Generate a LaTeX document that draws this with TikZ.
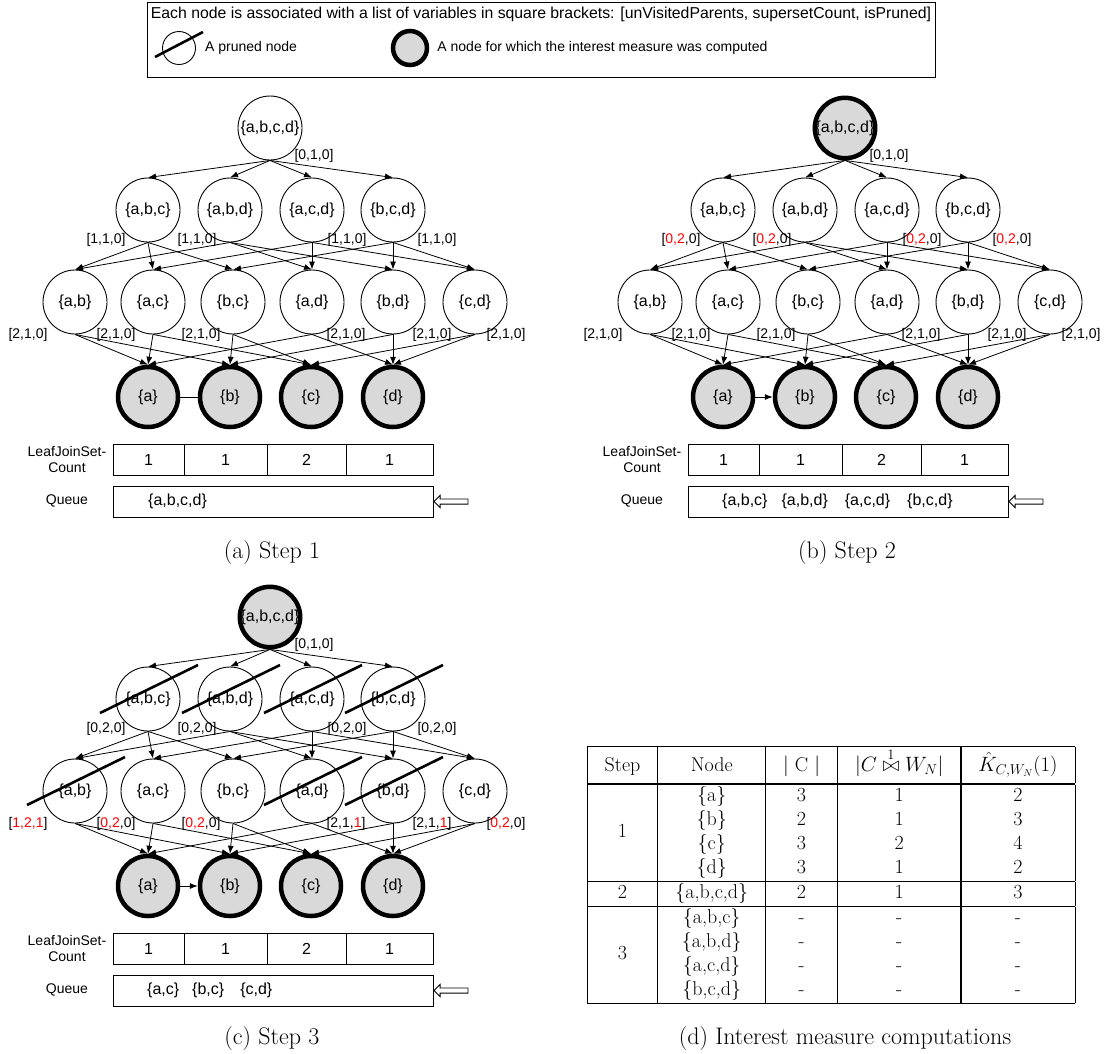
\documentclass[tikz,border=0pt]{standalone}
\usepackage{fontspec}
\usepackage{multirow}
\usetikzlibrary{positioning, calc, shapes.arrows, arrows.meta}
\newfontfamily\arial{Liberation Sans}
\definecolor{leafgray}{RGB}{217,217,217}
\newcommand{\hl}[1]{\textcolor{red}{#1}}

\begin{document}
\begin{tikzpicture}[
    x=1pt, y=-1pt,
    setnode/.style={circle, draw, line width=0.9pt, minimum size=64pt, inner sep=0pt, font=\arial\fontsize{16}{18}\selectfont},
    donenode/.style={setnode, fill=leafgray, line width=4.5pt, minimum size=60pt},
    tag/.style={inner sep=1pt, font=\arial\fontsize{14}{16}\selectfont},
    arr/.style={-{Latex[length=8pt,width=6pt]}, line width=0.8pt},
    link/.style={line width=0.8pt},
    prune/.style={line width=2.6pt},
    cell/.style={rectangle, draw, line width=0.9pt, minimum height=31pt, inner sep=0pt, font=\arial\fontsize{16}{18}\selectfont},
    qtext/.style={inner sep=0pt, font=\arial\fontsize{16}{18}\selectfont},
    rowlabel/.style={align=center, inner sep=0pt, font=\arial\fontsize{14}{16}\selectfont},
    legendtext/.style={inner sep=0pt, font=\arial\fontsize{14}{16}\selectfont},
    pointer/.style={single arrow, draw, line width=0.8pt, fill=white, inner sep=2.2pt, single arrow head extend=3.5pt, single arrow head indent=0pt, minimum height=34pt, shape border rotate=180, anchor=tip},
    caption/.style={inner sep=0pt, font=\fontsize{24}{28}\selectfont}
]
\useasboundingbox (0,0) rectangle (1107,1053);

% legend
\node[draw, line width=0.9pt, minimum width=788pt, minimum height=75pt, inner sep=0pt, anchor=north west] (legend) at (147,2) {};
\node[legendtext, font=\arial\fontsize{15.8}{18}\selectfont] (legtext) at (541,14) {Each node is associated with a list of variables in square brackets: [unVisitedParents, supersetCount, isPruned]};
\node[circle, draw, line width=0.9pt, minimum size=33pt] (legprune) at (179,48) {};
\draw[prune] ($(legprune)+(-24,9)$) -- ($(legprune)+(24,-16)$);
\node[legendtext, right=9pt of legprune] (legprunetext) {A pruned node};
\node[circle, draw, fill=leafgray, line width=4.5pt, minimum size=34pt] (legdone) at (410,48) {};
\node[legendtext, right=8pt of legdone] (legdonetext) {A node for which the interest measure was computed};

% the three lattices with their counters and queues
\foreach \p/\dx/\dy/\rs/\lk in {a/0/0/setnode/link, b/575/0/donenode/arr, c/0/489/donenode/arr} {
  \begin{scope}[shift={(\dx,\dy)}]
    \node[\rs] (\p-abcd) at (270,128) {\{a,b,c,d\}};
    \foreach \n/\t/\x in {abc/{a,b,c}/148, abd/{a,b,d}/230, acd/{a,c,d}/312, bcd/{b,c,d}/393}
      \node[setnode] (\p-\n) at (\x,210) {\{\t\}};
    \foreach \n/\t/\x in {ab/{a,b}/75, ac/{a,c}/153, bc/{b,c}/233, ad/{a,d}/312, bd/{b,d}/393, cd/{c,d}/475}
      \node[setnode] (\p-\n) at (\x,302) {\{\t\}};
    \foreach \n/\x in {a/148, b/230, c/311, d/393}
      \node[donenode] (\p-\n) at (\x,397) {\{\n\}};

    \foreach \n in {abc, abd, acd, bcd}
      \draw[arr] (\p-abcd.south) -- (\p-\n.north);
    \foreach \src/\dst in {abc/ab, abc/ac, abc/bc, abd/ab, abd/ad, abd/bd, acd/ac, acd/ad, acd/cd, bcd/bc, bcd/bd, bcd/cd}
      \draw[arr] (\p-\src.south) -- (\p-\dst.north);
    \foreach \src/\dst in {ab/a, ab/b, ac/a, ac/c, bc/b, bc/c, ad/a, ad/d, bd/b, bd/d, cd/c, cd/d}
      \draw[arr] (\p-\src.south) -- (\p-\dst.north);
    \draw[\lk] (\p-a) -- (\p-b);

    \node[tag] (\p-abcd-tag) at ($(\p-abcd)+(44,28)$) {[0,1,0]};

    % LeafJoinSetCount and queue
    \node[rowlabel] (\p-cntlbl) at (67,459) {LeafJoinSet-\\Count};
    \foreach \cx/\w/\v [count=\i] in {148.5/71/1, 225.5/83/1, 306.5/79/2, 389.5/87/1}
      \node[cell, minimum width=\w pt] (\p-cnt\i) at (\cx,459.5) {\v};
    \node[rowlabel] (\p-qlbl) at (67,501) {Queue};
    \node[cell, minimum width=320pt] (\p-queue) at (273,501.5) {};
    \node[pointer] (\p-ptr) at (\p-queue.east) {};
  \end{scope}
}

% variables of step 1
\foreach \n/\o/\t in {abc/-42/{[1,1,0]}, abd/-33/{[1,1,0]}, acd/35/{[1,1,0]}, bcd/44/{[1,1,0]}}
  \node[tag] (a-\n-tag) at ($(a-\n)+(\o,30)$) {\t};
\foreach \n/\o in {ab/-47, ac/-37, bc/-32, ad/34, bd/39, cd/31}
  \node[tag] (a-\n-tag) at ($(a-\n)+(\o,33)$) {[2,1,0]};
\node[qtext, anchor=west] (a-items) at (148,501) {\{a,b,c,d\}};

% variables of step 2
\foreach \n/\o in {abc/-42, abd/-33, acd/35, bcd/44}
  \node[tag] (b-\n-tag) at ($(b-\n)+(\o,30)$) {[\hl{0,2},0]};
\foreach \n/\o in {ab/-47, ac/-37, bc/-32, ad/34, bd/39, cd/31}
  \node[tag] (b-\n-tag) at ($(b-\n)+(\o,33)$) {[2,1,0]};
\node[qtext, anchor=west] (b-items) at (722,501) {\{a,b,c\}\hspace{14pt}\{a,b,d\}\hspace{17pt}\{a,c,d\}\hspace{17pt}\{b,c,d\}};

% variables of step 3
\foreach \n/\o in {abc/-42, abd/-33, acd/35, bcd/44}
  \node[tag] (c-\n-tag) at ($(c-\n)+(\o,30)$) {[0,2,0]};
\foreach \n/\o/\t in {ab/-47/{[\hl{1,2,1}]}, ac/-37/{[\hl{0,2},0]}, bc/-32/{[\hl{0,2},0]}, ad/34/{[2,1,\hl{1}]}, bd/39/{[2,1,\hl{1}]}, cd/31/{[\hl{0,2},0]}}
  \node[tag] (c-\n-tag) at ($(c-\n)+(\o,33)$) {\t};
\node[qtext, anchor=west] (c-items) at (147,990) {\{a,c\}\hspace{13pt}\{b,c\}\hspace{16pt}\{c,d\}};

% pruned nodes
\foreach \n in {abc, abd, acd, bcd, ab, ad, bd}
  \draw[prune] ($(c-\n)+(-48,14)$) -- ($(c-\n)+(50,-34)$);

% interest measures
\node[anchor=north west, inner sep=0pt] (measures) at (587,746) {%
  \fontsize{20}{24}\selectfont
  \setlength\tabcolsep{17.5pt}\setlength\arrayrulewidth{1.2pt}%
  \begin{tabular}{|c|c|c|c|c|}
    \hline
    Step & Node & $|$ C $|$ & $|C\stackrel{1}{\bowtie}W_N|$ & $\hat{K}_{C,W_N}(1)$\rule[-12pt]{0pt}{36pt}\\
    \hline
    \multirow{4}{*}{1} & \{a\} & 3 & 1 & 2\\
     & \{b\} & 2 & 1 & 3\\
     & \{c\} & 3 & 2 & 4\\
     & \{d\} & 3 & 1 & 2\\
    \hline
    2 & \{a,b,c,d\} & 2 & 1 & 3\\
    \hline
    \multirow{4}{*}{3} & \{a,b,c\} & - & - & -\\
     & \{a,b,d\} & - & - & -\\
     & \{a,c,d\} & - & - & -\\
     & \{b,c,d\} & - & - & -\\
    \hline
  \end{tabular}};

% captions
\node[caption] (cap-a) at (272,552) {(a) Step 1};
\node[caption] (cap-b) at (847,552) {(b) Step 2};
\node[caption] (cap-c) at (272,1038) {(c) Step 3};
\node[caption] (cap-d) at (845,1038) {(d) Interest measure computations};

\end{tikzpicture}
\end{document}
